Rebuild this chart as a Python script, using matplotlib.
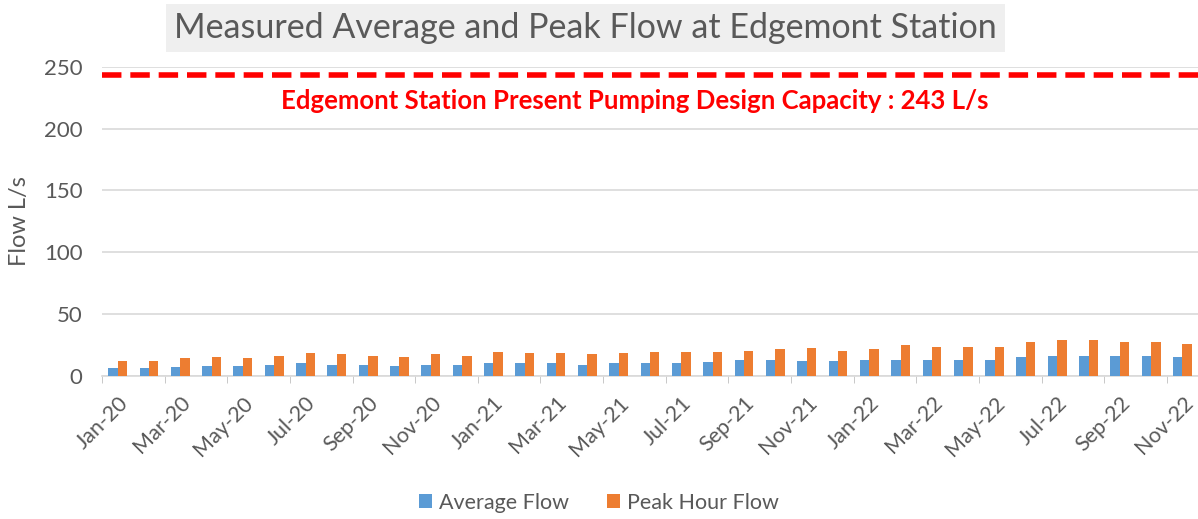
import matplotlib
matplotlib.use("Agg")
import matplotlib.pyplot as plt
import numpy as np

plt.rcParams['font.family'] = ['Lato', 'DejaVu Sans']

# data
months = ['Jan-20', 'Feb-20', 'Mar-20', 'Apr-20', 'May-20', 'Jun-20', 'Jul-20', 'Aug-20', 'Sep-20', 'Oct-20',
          'Nov-20', 'Dec-20', 'Jan-21', 'Feb-21', 'Mar-21', 'Apr-21', 'May-21', 'Jun-21', 'Jul-21', 'Aug-21',
          'Sep-21', 'Oct-21', 'Nov-21', 'Dec-21', 'Jan-22', 'Feb-22', 'Mar-22', 'Apr-22', 'May-22', 'Jun-22',
          'Jul-22', 'Aug-22', 'Sep-22', 'Oct-22', 'Nov-22']
avg_flow = [6.2, 6.2, 7.3, 8.1, 8.1, 9.2, 10.2, 9.2, 9.2, 8.1, 9.2, 9.2,
            10.2, 10.2, 10.2, 9.2, 10.2, 10.2, 10.2, 11.3, 13.2, 13.2, 12.1, 12.1,
            13.2, 13.2, 13.2, 13.2, 13.2, 15.4, 16.4, 16.4, 16.4, 16.4, 15.4]
peak_flow = [12.1, 12.1, 14.3, 15.4, 14.3, 16.4, 18.6, 17.5, 16.4, 15.4, 17.5, 16.4,
             19.4, 18.6, 18.6, 17.5, 18.6, 19.4, 19.4, 19.4, 20.5, 21.6, 22.6, 20.5,
             21.6, 24.8, 23.7, 23.7, 23.7, 27.8, 28.9, 28.9, 27.8, 27.8, 25.9]
capacity = 243

grey = '#595959'
x = np.arange(len(months))

fig = plt.figure(figsize=(11.98, 5.19), dpi=100)
ax = fig.add_axes([0.0851, 0.2755, 0.915, 0.596])

ax.bar(x - 0.15, avg_flow, width=0.3, color='#5B9BD5', label='Average Flow', zorder=3)
ax.bar(x + 0.15, peak_flow, width=0.3, color='#ED7D31', label='Peak Hour Flow', zorder=3)
ax.axhline(capacity, color='#FF0000', lw=4, ls=(0, (3.5, 1.6)), zorder=4)
ax.text(16.5, 222, 'Edgemont Station Present Pumping Design Capacity : 243 L/s',
        color='#FF0000', fontsize=18.5, fontweight='bold', ha='center', va='center')

ax.set_xlim(-0.5, len(months) - 0.5)
ax.set_ylim(0, 250)
ax.set_yticks(range(0, 251, 50))
ax.grid(axis='y', color='#d9d9d9', lw=1.2, zorder=0)
for s in ['top', 'right', 'left']:
    ax.spines[s].set_visible(False)
ax.spines['bottom'].set_color('#d9d9d9')
ax.spines['bottom'].set_linewidth(1.2)

ax.set_xticks(x[::2])
ax.set_xticklabels(months[::2], rotation=45, ha='right', rotation_mode='anchor')
ax.set_xticks(np.arange(-0.5, len(months), 2), minor=True)
ax.tick_params(axis='x', which='major', length=0, pad=12, labelsize=15.5, labelcolor=grey)
ax.tick_params(axis='x', which='minor', length=5, color='#bfbfbf')
ax.tick_params(axis='y', length=0, labelsize=16, labelcolor=grey, pad=14)
ax.set_ylabel('Flow L/s', fontsize=17, color=grey, labelpad=10)

fig.text(0.489, 0.946, 'Measured Average and Peak Flow at Edgemont Station', fontsize=24.5,
         color=grey, ha='center', va='center',
         bbox=dict(facecolor='#efefef', edgecolor='none', pad=6))

fig.legend(loc='lower center', bbox_to_anchor=(0.5, -0.025), ncol=2, frameon=False,
           fontsize=15.5, labelcolor=grey, handlelength=0.6, handleheight=0.6,
           handletextpad=0.3, columnspacing=1.8)

fig.savefig('out.png', dpi=100)
